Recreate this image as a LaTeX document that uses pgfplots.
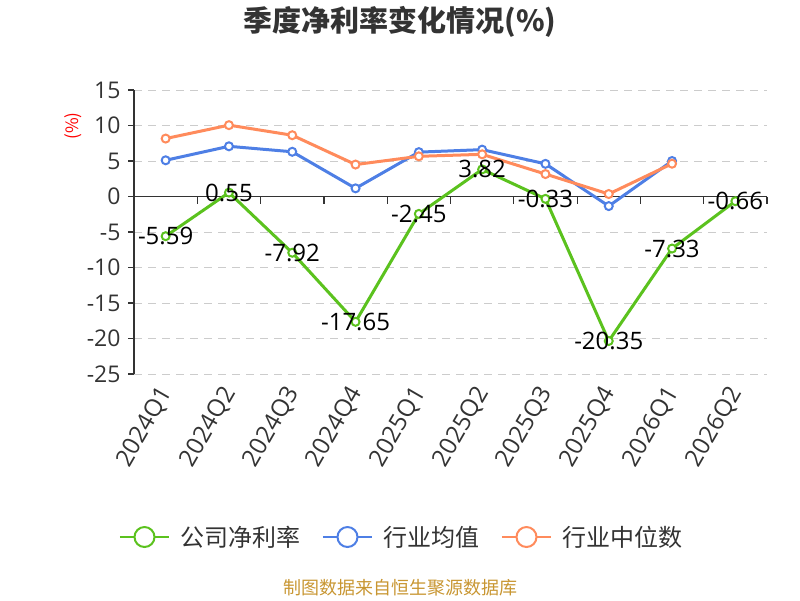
\documentclass[border=0pt]{standalone}
\usepackage{pgfplots}
\pgfplotsset{compat=1.18}
\usepackage{fontspec}
\setmainfont{Noto Sans CJK SC}
\newfontfamily\numfont{Open Sans}
\definecolor{cgreen}{RGB}{91,194,30}
\definecolor{cblue}{RGB}{78,127,229}
\definecolor{corange}{RGB}{255,139,92}
\definecolor{ctext}{RGB}{51,51,51}
\definecolor{cgrid}{RGB}{204,204,204}
\definecolor{csrc}{RGB}{200,150,50}
\begin{document}
\begin{tikzpicture}[x=1pt,y=1pt]
\path[use as bounding box] (0,0) rectangle (800,600);
\begin{axis}[
  at={(134pt,226pt)}, anchor=south west,
  scale only axis, width=633pt, height=284pt,
  xmin=-0.5, xmax=9.5, ymin=-25, ymax=15,
  axis x line*=bottom, axis y line*=left,
  x axis line style={draw=none},
  y axis line style={draw=ctext, line width=1.2pt},
  xtick={0,...,9},
  xticklabels={2024Q1,2024Q2,2024Q3,2024Q4,2025Q1,2025Q2,2025Q3,2025Q4,2026Q1,2026Q2},
  ytick={-25,-20,...,15},
  tick align=outside,
  major tick length=6pt,
  xtick style={draw=none},
  ytick style={draw=ctext, line width=1.2pt},
  ymajorgrids,
  grid style={cgrid, line width=1pt, dash pattern=on 8pt off 6pt},
  extra y ticks={0}, extra y tick labels={},
  extra y tick style={grid style={solid, draw=ctext, line width=1.2pt}},
  /pgf/number format/assume math mode=true,
  tick label style={font=\numfont\fontsize{23}{27}\selectfont, text=ctext},
  xticklabel style={font=\numfont\fontsize{24}{28}\selectfont, yshift=-6pt, xshift=3pt, rotate=60, anchor=east},
  yticklabel style={anchor=east, xshift=-4pt},
  ylabel={(\%)},
  ylabel style={at={(axis description cs:-0.0964,0.873)}, anchor=center, font=\fontsize{17}{19}\selectfont, text=red},
  legend style={at={(axis description cs:0.4218,-0.574)}, anchor=center, draw=none, fill=none,
    legend columns=3, font=\fontsize{24}{28}\selectfont, text=ctext,
    /tikz/every odd column/.style={column sep=11pt},
    /tikz/every even column/.style={column sep=21pt},
    nodes={inner sep=0pt}},
  legend image code/.code={
    \draw[#1, line width=2pt] (0pt,0pt) -- (49pt,0pt);
    \draw[#1, line width=2pt, fill=white] (24.5pt,0pt) circle (10pt);
  },
  clip=false,
]
\addplot[color=cgreen, line width=3pt, mark=*, mark size=4pt, mark options={fill=white, line width=2pt}]
  coordinates {(0,-5.59)(1,0.55)(2,-7.92)(3,-17.65)(4,-2.45)(5,3.82)(6,-0.33)(7,-20.35)(8,-7.33)(9,-0.66)};
\addlegendentry{公司净利率}
\addplot[color=cblue, line width=3pt, mark=*, mark size=4pt, mark options={fill=white, line width=2pt}]
  coordinates {(0,5.1)(1,7.07)(2,6.3)(3,1.15)(4,6.25)(5,6.6)(6,4.6)(7,-1.35)(8,5.0)};
\addlegendentry{行业均值}
\addplot[color=corange, line width=3pt, mark=*, mark size=4pt, mark options={fill=white, line width=2pt}]
  coordinates {(0,8.16)(1,10.05)(2,8.63)(3,4.5)(4,5.66)(5,5.94)(6,3.16)(7,0.35)(8,4.62)};
\addlegendentry{行业中位数}
\addplot[ycomb, draw=ctext, line width=1.2pt, no marks, forget plot]
  coordinates {(0.5,-1.1)(1.5,-1.1)(2.5,-1.1)(3.5,-1.1)(4.5,-1.1)(5.5,-1.1)(6.5,-1.1)(7.5,-1.1)(8.5,-1.1)(9.5,-1.1)};
\addplot[draw=none, no marks, forget plot,
  nodes near coords={\pgfmathprintnumber[fixed,fixed zerofill,precision=2,assume math mode=true]{\pgfplotspointmeta}},
  nodes near coords style={anchor=center, font=\numfont\fontsize{24}{28}\selectfont, text=black, inner sep=0pt}]
  coordinates {(0,-5.59)(1,0.55)(2,-7.92)(3,-17.65)(4,-2.45)(5,3.82)(6,-0.33)(7,-20.35)(8,-7.33)(9,-0.66)};
\end{axis}
\node[font=\bfseries\fontsize{29}{34}\selectfont, text=ctext] at (400,578) {季度净利率变化情况(\%)};
\node[font=\fontsize{18}{21}\selectfont, text=csrc] at (400,12) {制图数据来自恒生聚源数据库};
\end{tikzpicture}
\end{document}
